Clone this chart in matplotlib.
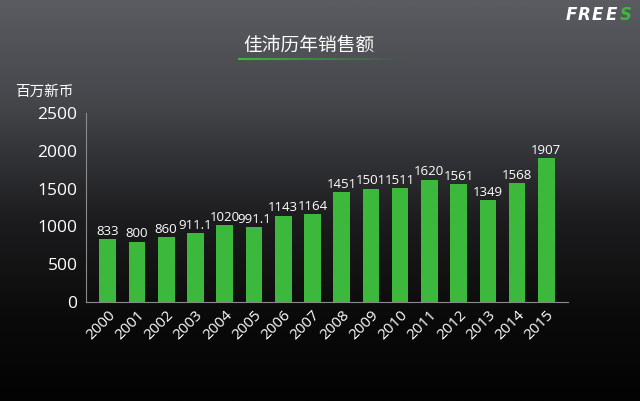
import matplotlib
matplotlib.use("Agg")
import matplotlib.pyplot as plt
import numpy as np
from matplotlib.colors import LinearSegmentedColormap

plt.rcParams['font.family'] = ['Open Sans', 'Noto Sans CJK SC', 'DejaVu Sans']

years = ['2000', '2001', '2002', '2003', '2004', '2005', '2006', '2007',
         '2008', '2009', '2010', '2011', '2012', '2013', '2014', '2015']
sales = [833, 800, 860, 911.1, 1020, 991.1, 1143, 1164,
         1451, 1501, 1511, 1620, 1561, 1349, 1568, 1907]
value_labels = ['833', '800', '860', '911.1', '1020', '991.1', '1143', '1164',
                '1451', '1501', '1511', '1620', '1561', '1349', '1568', '1907']
yticks = [0, 500, 1000, 1500, 2000, 2500]

green = '#3cb93c'

fig = plt.figure(figsize=(6.4, 4.01), dpi=100)

# background gradient (gray top -> black bottom)
bg = fig.add_axes([0, 0, 1, 1])
bg_cmap = LinearSegmentedColormap.from_list(
    'bg', [(0.0, '#5a5c61'), (0.25, '#45474b'), (0.55, '#1c1c1e'), (0.8, '#0a0a0a'), (1.0, '#030303')])
grad = np.linspace(0, 1, 256).reshape(-1, 1)
bg.imshow(grad, aspect='auto', cmap=bg_cmap, extent=[0, 1, 0, 1], origin='upper')
bg.set_xlim(0, 1)
bg.set_ylim(0, 1)
bg.axis('off')

# title + fading green underline
bg.text(0.483, 0.888, '佳沛历年销售额', color='white', fontsize=13.5,
        ha='center', va='center', family=['Noto Sans CJK SC'])
n = 60
xs = np.linspace(0.372, 0.65, n + 1)
for i in range(n):
    a = max(0.0, 1 - i / n) ** 1.3
    bg.plot(xs[i:i + 2], [0.853, 0.853], color=green, alpha=a, lw=1.5,
            solid_capstyle='butt')

# logo, letters spaced out
logo = ['F', 'R', 'E', 'E', 'S']
logo_x = [0.892, 0.913, 0.934, 0.955, 0.977]
for i, (ch, lx) in enumerate(zip(logo, logo_x)):
    bg.text(lx, 0.963, ch, color=green if i == 4 else 'white',
            fontsize=12, fontweight='bold', style='italic', ha='center',
            va='center', family=['DejaVu Sans'])

# unit label
bg.text(0.07, 0.772, '百万新币', color='white', fontsize=10.5,
        ha='center', va='center', family=['Noto Sans CJK SC'])

ax = fig.add_axes([0.134, 0.247, 0.754, 0.471])
ax.patch.set_alpha(0)
x = np.arange(len(years))
bars = ax.bar(x, sales, width=0.57, color=green, zorder=2)
for xi, v, lab in zip(x, sales, value_labels):
    ax.text(xi, v + 15, lab, color='white', fontsize=9.5, ha='center',
            va='bottom')

ax.set_xlim(-0.75, len(years) - 0.25)
ax.set_ylim(0, 2500)
ax.set_yticks(yticks)
ax.set_yticklabels([str(t) for t in yticks], color='white', fontsize=12.5)
ax.set_xticks(x)
ax.set_xticklabels(years, rotation=45, ha='right', rotation_mode='anchor',
                   color='white', fontsize=11)
ax.tick_params(axis='both', length=0, pad=6)
ax.tick_params(axis='x', pad=4)
for s in ['top', 'right']:
    ax.spines[s].set_visible(False)
ax.spines['left'].set_color('#8a8a8a')
ax.spines['bottom'].set_color('#8a8a8a')
ax.spines['left'].set_linewidth(0.8)
ax.spines['bottom'].set_linewidth(0.8)

fig.savefig('out.png', dpi=100)
